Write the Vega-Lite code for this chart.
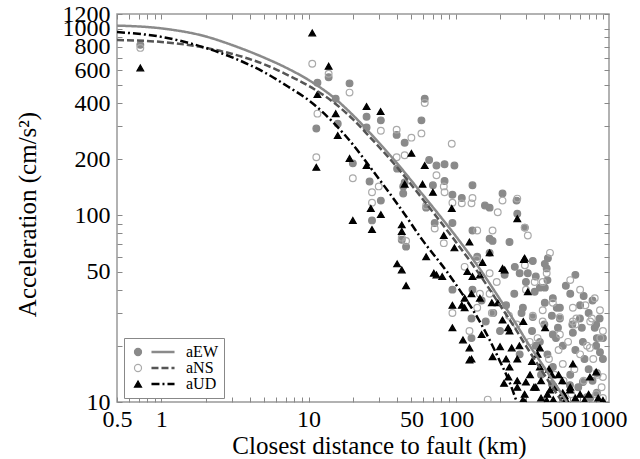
{
  "$schema": "https://vega.github.io/schema/vega-lite/v6.json",
  "autosize": {"type": "none"},
  "width": 492,
  "height": 388,
  "padding": {"left": 117, "top": 14, "right": 31, "bottom": 57},
  "background": "white",
  "config": {
    "view": {"stroke": "#999", "strokeWidth": 1.5},
    "font": "serif",
    "axis": {
      "domain": false, "grid": false, "tickSize": -5, "tickColor": "#888", "tickWidth": 1,
      "labelFont": "serif", "labelFontSize": 24, "labelColor": "#000",
      "labelOverlap": false, "labelFlush": false, "labelBound": false,
      "titleFont": "serif", "titleFontSize": 25, "titleFontWeight": "normal", "titleColor": "#000"
    },
    "legend": {"labelFont": "serif"}
  },
  "datasets": {
    "pts": [
      {"comp":"aEW","d":0.72,"a":820},{"comp":"aEW","d":11.5,"a":514},{"comp":"aEW","d":13.7,"a":550},{"comp":"aEW","d":19,"a":510},{"comp":"aEW","d":15.3,"a":422},{"comp":"aEW","d":15.8,"a":310},{"comp":"aEW","d":11.3,"a":292},{"comp":"aEW","d":24.8,"a":338},{"comp":"aEW","d":31,"a":323},{"comp":"aEW","d":24.8,"a":296},{"comp":"aEW","d":39.7,"a":270},{"comp":"aEW","d":61.6,"a":422},{"comp":"aEW","d":58.5,"a":323},{"comp":"aEW","d":45,"a":245},{"comp":"aEW","d":20,"a":190},{"comp":"aEW","d":66,"a":198},{"comp":"aEW","d":74,"a":185},{"comp":"aEW","d":84,"a":188},{"comp":"aEW","d":98,"a":185},{"comp":"aEW","d":40,"a":178},{"comp":"aEW","d":45,"a":150},{"comp":"aEW","d":70,"a":145},{"comp":"aEW","d":26,"a":152},{"comp":"aEW","d":44,"a":143},{"comp":"aEW","d":44,"a":131},{"comp":"aEW","d":31,"a":120},{"comp":"aEW","d":95,"a":129},{"comp":"aEW","d":63,"a":110},{"comp":"aEW","d":27,"a":94},{"comp":"aEW","d":46,"a":68},{"comp":"aEW","d":43,"a":74},{"comp":"aEW","d":72,"a":91},{"comp":"aEW","d":95,"a":91},{"comp":"aEW","d":95,"a":40},{"comp":"aEW","d":84,"a":153},{"comp":"aEW","d":110,"a":124},{"comp":"aEW","d":130,"a":145},{"comp":"aEW","d":158,"a":113},{"comp":"aEW","d":170,"a":110},{"comp":"aEW","d":208,"a":131},{"comp":"aEW","d":259,"a":120},{"comp":"aEW","d":262,"a":102},{"comp":"aEW","d":130,"a":83},{"comp":"aEW","d":170,"a":75},{"comp":"aEW","d":178,"a":73},{"comp":"aEW","d":232,"a":72},{"comp":"aEW","d":140,"a":60},{"comp":"aEW","d":252,"a":53},{"comp":"aEW","d":272,"a":49},{"comp":"aEW","d":128,"a":28},{"comp":"aEW","d":128,"a":22},{"comp":"aEW","d":272,"a":18},{"comp":"aEW","d":295,"a":86},{"comp":"aEW","d":334,"a":57},{"comp":"aEW","d":423,"a":59},{"comp":"aEW","d":403,"a":55},{"comp":"aEW","d":415,"a":52},{"comp":"aEW","d":309,"a":49},{"comp":"aEW","d":373,"a":41},{"comp":"aEW","d":403,"a":41},{"comp":"aEW","d":344,"a":39},{"comp":"aEW","d":457,"a":36},{"comp":"aEW","d":486,"a":32},{"comp":"aEW","d":510,"a":32},{"comp":"aEW","d":403,"a":34},{"comp":"aEW","d":286,"a":32},{"comp":"aEW","d":698,"a":28},{"comp":"aEW","d":450,"a":29},{"comp":"aEW","d":334,"a":28.5},{"comp":"aEW","d":510,"a":28},{"comp":"aEW","d":495,"a":25},{"comp":"aEW","d":719,"a":25},{"comp":"aEW","d":457,"a":23},{"comp":"aEW","d":625,"a":23.5},{"comp":"aEW","d":910,"a":22},{"comp":"aEW","d":373,"a":21},{"comp":"aEW","d":534,"a":20},{"comp":"aEW","d":731,"a":21},{"comp":"aEW","d":955,"a":18.5},{"comp":"aEW","d":1000,"a":17},{"comp":"aEW","d":457,"a":15.4},{"comp":"aEW","d":910,"a":14.3},{"comp":"aEW","d":731,"a":12.8},{"comp":"aEW","d":597,"a":12.3},{"comp":"aEW","d":910,"a":11.2},{"comp":"aEW","d":778,"a":10.6},{"comp":"aEW","d":170,"a":63},{"comp":"aEW","d":215,"a":48},{"comp":"aEW","d":350,"a":20},{"comp":"aEW","d":420,"a":18},{"comp":"aEW","d":480,"a":22},{"comp":"aEW","d":600,"a":14},{"comp":"aEW","d":650,"a":19},{"comp":"aEW","d":750,"a":17},{"comp":"aEW","d":800,"a":15},{"comp":"aEW","d":850,"a":13},{"comp":"aEW","d":900,"a":20},{"comp":"aEW","d":380,"a":14},{"comp":"aEW","d":450,"a":12.5},{"comp":"aEW","d":680,"a":12},{"comp":"aEW","d":820,"a":10.5},{"comp":"aEW","d":330,"a":24},{"comp":"aEW","d":400,"a":26},{"comp":"aEW","d":620,"a":26},{"comp":"aEW","d":880,"a":25},{"comp":"aEW","d":130,"a":40},{"comp":"aEW","d":150,"a":35},{"comp":"aEW","d":180,"a":30},{"comp":"aEW","d":220,"a":33},{"comp":"aEW","d":250,"a":38},{"comp":"aEW","d":280,"a":30},{"comp":"aEW","d":160,"a":27},{"comp":"aEW","d":200,"a":24},{"comp":"aEW","d":300,"a":44},{"comp":"aEW","d":350,"a":47},{"comp":"aEW","d":420,"a":45},{"comp":"aEW","d":600,"a":38},{"comp":"aEW","d":700,"a":33},{"comp":"aEW","d":800,"a":30},{"comp":"aEW","d":900,"a":26},{"comp":"aEW","d":560,"a":42},{"comp":"aEW","d":650,"a":48},{"comp":"aEW","d":740,"a":37},{"comp":"aEW","d":850,"a":35},{"comp":"aEW","d":950,"a":28},{"comp":"aEW","d":1000,"a":22},
      {"comp":"aNS","d":0.72,"a":790},{"comp":"aNS","d":10.6,"a":650},{"comp":"aNS","d":13.7,"a":574},{"comp":"aNS","d":19,"a":455},{"comp":"aNS","d":11.5,"a":351},{"comp":"aNS","d":31,"a":284},{"comp":"aNS","d":39.7,"a":288},{"comp":"aNS","d":50,"a":261},{"comp":"aNS","d":58.5,"a":275},{"comp":"aNS","d":61.6,"a":400},{"comp":"aNS","d":45,"a":210},{"comp":"aNS","d":39.7,"a":205},{"comp":"aNS","d":11.3,"a":205},{"comp":"aNS","d":74,"a":164},{"comp":"aNS","d":94,"a":242},{"comp":"aNS","d":83,"a":143},{"comp":"aNS","d":20,"a":158},{"comp":"aNS","d":30,"a":143},{"comp":"aNS","d":27,"a":133},{"comp":"aNS","d":27,"a":117},{"comp":"aNS","d":95,"a":117},{"comp":"aNS","d":63,"a":113},{"comp":"aNS","d":43,"a":76},{"comp":"aNS","d":46,"a":73},{"comp":"aNS","d":72,"a":85},{"comp":"aNS","d":83,"a":71},{"comp":"aNS","d":95,"a":30},{"comp":"aNS","d":84,"a":133},{"comp":"aNS","d":110,"a":116},{"comp":"aNS","d":130,"a":124},{"comp":"aNS","d":128,"a":116},{"comp":"aNS","d":193,"a":104},{"comp":"aNS","d":208,"a":120},{"comp":"aNS","d":294,"a":86},{"comp":"aNS","d":140,"a":83},{"comp":"aNS","d":178,"a":83},{"comp":"aNS","d":139,"a":58},{"comp":"aNS","d":115,"a":53},{"comp":"aNS","d":170,"a":49},{"comp":"aNS","d":146,"a":38},{"comp":"aNS","d":176,"a":30},{"comp":"aNS","d":124,"a":24},{"comp":"aNS","d":165,"a":10.3},{"comp":"aNS","d":309,"a":78},{"comp":"aNS","d":295,"a":54},{"comp":"aNS","d":437,"a":63},{"comp":"aNS","d":415,"a":49},{"comp":"aNS","d":344,"a":44},{"comp":"aNS","d":390,"a":44},{"comp":"aNS","d":457,"a":34},{"comp":"aNS","d":625,"a":32},{"comp":"aNS","d":390,"a":31},{"comp":"aNS","d":955,"a":31},{"comp":"aNS","d":842,"a":28},{"comp":"aNS","d":510,"a":28.5},{"comp":"aNS","d":334,"a":29},{"comp":"aNS","d":625,"a":27},{"comp":"aNS","d":510,"a":23},{"comp":"aNS","d":1000,"a":24},{"comp":"aNS","d":318,"a":21},{"comp":"aNS","d":816,"a":19.5},{"comp":"aNS","d":534,"a":16},{"comp":"aNS","d":1000,"a":13.6},{"comp":"aNS","d":1000,"a":10.5},{"comp":"aNS","d":262,"a":123},{"comp":"aNS","d":360,"a":22},{"comp":"aNS","d":430,"a":17},{"comp":"aNS","d":500,"a":19},{"comp":"aNS","d":580,"a":21},{"comp":"aNS","d":640,"a":15},{"comp":"aNS","d":700,"a":18},{"comp":"aNS","d":780,"a":20},{"comp":"aNS","d":860,"a":17},{"comp":"aNS","d":920,"a":14},{"comp":"aNS","d":980,"a":12},{"comp":"aNS","d":470,"a":14},{"comp":"aNS","d":540,"a":13},{"comp":"aNS","d":610,"a":11},{"comp":"aNS","d":740,"a":13},{"comp":"aNS","d":900,"a":11},{"comp":"aNS","d":390,"a":27},{"comp":"aNS","d":660,"a":28},{"comp":"aNS","d":820,"a":27},{"comp":"aNS","d":960,"a":22},{"comp":"aNS","d":140,"a":32},{"comp":"aNS","d":170,"a":38},{"comp":"aNS","d":230,"a":29},{"comp":"aNS","d":260,"a":26},{"comp":"aNS","d":190,"a":44},{"comp":"aNS","d":300,"a":40},{"comp":"aNS","d":700,"a":40},{"comp":"aNS","d":760,"a":33},{"comp":"aNS","d":880,"a":36},{"comp":"aNS","d":600,"a":45},{"comp":"aNS","d":650,"a":26},
      {"comp":"aUD","d":0.72,"a":617},{"comp":"aUD","d":10.6,"a":950},{"comp":"aUD","d":13.7,"a":630},{"comp":"aUD","d":11.5,"a":444},{"comp":"aUD","d":15.3,"a":351},{"comp":"aUD","d":15.8,"a":268},{"comp":"aUD","d":24.8,"a":383},{"comp":"aUD","d":30.9,"a":360},{"comp":"aUD","d":50,"a":215},{"comp":"aUD","d":19,"a":202},{"comp":"aUD","d":11.3,"a":181},{"comp":"aUD","d":24.8,"a":185},{"comp":"aUD","d":61.6,"a":185},{"comp":"aUD","d":45,"a":147},{"comp":"aUD","d":59.5,"a":147},{"comp":"aUD","d":70,"a":133},{"comp":"aUD","d":26.5,"a":109},{"comp":"aUD","d":31,"a":101},{"comp":"aUD","d":94,"a":109},{"comp":"aUD","d":20,"a":94},{"comp":"aUD","d":27,"a":84},{"comp":"aUD","d":43,"a":89},{"comp":"aUD","d":43,"a":82},{"comp":"aUD","d":63,"a":60},{"comp":"aUD","d":40,"a":55},{"comp":"aUD","d":43,"a":51},{"comp":"aUD","d":71,"a":49},{"comp":"aUD","d":74,"a":48},{"comp":"aUD","d":81,"a":47},{"comp":"aUD","d":46,"a":42},{"comp":"aUD","d":95,"a":33},{"comp":"aUD","d":95,"a":25},{"comp":"aUD","d":83,"a":78},{"comp":"aUD","d":98,"a":67},{"comp":"aUD","d":262,"a":96},{"comp":"aUD","d":124,"a":72},{"comp":"aUD","d":170,"a":63},{"comp":"aUD","d":208,"a":52},{"comp":"aUD","d":152,"a":56},{"comp":"aUD","d":294,"a":59},{"comp":"aUD","d":130,"a":47},{"comp":"aUD","d":146,"a":48},{"comp":"aUD","d":128,"a":38},{"comp":"aUD","d":115,"a":36},{"comp":"aUD","d":146,"a":36},{"comp":"aUD","d":176,"a":34},{"comp":"aUD","d":193,"a":34},{"comp":"aUD","d":115,"a":32},{"comp":"aUD","d":227,"a":25},{"comp":"aUD","d":150,"a":23},{"comp":"aUD","d":112,"a":21.5},{"comp":"aUD","d":124,"a":19.5},{"comp":"aUD","d":178,"a":17.5},{"comp":"aUD","d":128,"a":17},{"comp":"aUD","d":240,"a":19.5},{"comp":"aUD","d":262,"a":17},{"comp":"aUD","d":262,"a":13},{"comp":"aUD","d":294,"a":11},{"comp":"aUD","d":290,"a":58},{"comp":"aUD","d":309,"a":39},{"comp":"aUD","d":110,"a":33},{"comp":"aUD","d":120,"a":50},{"comp":"aUD","d":215,"a":51},{"comp":"aUD","d":208,"a":27.5},{"comp":"aUD","d":232,"a":24},{"comp":"aUD","d":200,"a":19.8},{"comp":"aUD","d":220,"a":17},{"comp":"aUD","d":232,"a":15.4},{"comp":"aUD","d":228,"a":13.6},{"comp":"aUD","d":262,"a":12},{"comp":"aUD","d":295,"a":10},{"comp":"aUD","d":213,"a":12.6},{"comp":"aUD","d":124,"a":16.8},{"comp":"aUD","d":288,"a":27},{"comp":"aUD","d":405,"a":25},{"comp":"aUD","d":271,"a":20},{"comp":"aUD","d":373,"a":19.5},{"comp":"aUD","d":625,"a":16},{"comp":"aUD","d":373,"a":15.4},{"comp":"aUD","d":816,"a":13.6},{"comp":"aUD","d":300,"a":12.8},{"comp":"aUD","d":340,"a":12},{"comp":"aUD","d":437,"a":11.6},{"comp":"aUD","d":534,"a":11.2},{"comp":"aUD","d":597,"a":11.6},{"comp":"aUD","d":930,"a":10.5},{"comp":"aUD","d":285,"a":10.2},{"comp":"aUD","d":415,"a":10.2},{"comp":"aUD","d":320,"a":14},{"comp":"aUD","d":350,"a":12},{"comp":"aUD","d":380,"a":13},{"comp":"aUD","d":420,"a":11},{"comp":"aUD","d":450,"a":14},{"comp":"aUD","d":480,"a":12},{"comp":"aUD","d":530,"a":13},{"comp":"aUD","d":600,"a":12},{"comp":"aUD","d":650,"a":10.5},{"comp":"aUD","d":700,"a":11},{"comp":"aUD","d":750,"a":10.2},{"comp":"aUD","d":800,"a":11},{"comp":"aUD","d":380,"a":10.5},{"comp":"aUD","d":460,"a":10.3},{"comp":"aUD","d":550,"a":10.8},{"comp":"aUD","d":900,"a":14.5},{"comp":"aUD","d":1000,"a":10.2},{"comp":"aUD","d":330,"a":16.5},{"comp":"aUD","d":360,"a":18},{"comp":"aUD","d":430,"a":15},{"comp":"aUD","d":500,"a":14},{"comp":"aUD","d":560,"a":10.3}
    ],
    "crv": [
      {"model":"EW","d":0.5,"a":1040},{"model":"EW","d":1,"a":1005},{"model":"EW","d":2,"a":910},{"model":"EW","d":3,"a":820},{"model":"EW","d":5,"a":700},{"model":"EW","d":7,"a":620},{"model":"EW","d":10,"a":532},{"model":"EW","d":15,"a":425},{"model":"EW","d":20,"a":345},{"model":"EW","d":26,"a":278},{"model":"EW","d":40,"a":190},{"model":"EW","d":57,"a":135},{"model":"EW","d":80,"a":97},{"model":"EW","d":106,"a":73},{"model":"EW","d":150,"a":50},{"model":"EW","d":200,"a":35.5},{"model":"EW","d":244,"a":28},{"model":"EW","d":300,"a":21.5},{"model":"EW","d":400,"a":15.3},{"model":"EW","d":500,"a":11.7},{"model":"EW","d":570,"a":10},
      {"model":"NS","d":0.5,"a":870},{"model":"NS","d":1,"a":850},{"model":"NS","d":2,"a":790},{"model":"NS","d":3,"a":735},{"model":"NS","d":5,"a":645},{"model":"NS","d":7,"a":572},{"model":"NS","d":10,"a":495},{"model":"NS","d":15,"a":400},{"model":"NS","d":20,"a":328},{"model":"NS","d":26,"a":264},{"model":"NS","d":40,"a":181},{"model":"NS","d":57,"a":128},{"model":"NS","d":80,"a":91},{"model":"NS","d":106,"a":68},{"model":"NS","d":150,"a":46.5},{"model":"NS","d":200,"a":33},{"model":"NS","d":244,"a":26},{"model":"NS","d":300,"a":20},{"model":"NS","d":400,"a":14},{"model":"NS","d":500,"a":10.7},{"model":"NS","d":530,"a":10},
      {"model":"UD","d":0.5,"a":960},{"model":"UD","d":1,"a":905},{"model":"UD","d":2,"a":790},{"model":"UD","d":3,"a":705},{"model":"UD","d":5,"a":585},{"model":"UD","d":7.4,"a":485},{"model":"UD","d":10,"a":415},{"model":"UD","d":15,"a":310},{"model":"UD","d":20,"a":240},{"model":"UD","d":26,"a":183},{"model":"UD","d":44,"a":104},{"model":"UD","d":60,"a":73},{"model":"UD","d":87,"a":50},{"model":"UD","d":106,"a":40},{"model":"UD","d":140,"a":28.5},{"model":"UD","d":170,"a":21.5},{"model":"UD","d":200,"a":16.5},{"model":"UD","d":230,"a":13},{"model":"UD","d":260,"a":10}
    ]
  },
  "layer": [
    {
      "data": {"name": "pts"},
      "mark": {"type": "point", "filled": true, "size": 45, "strokeWidth": 1.2, "opacity": 1, "clip": true},
      "encoding": {
        "x": {"field": "d", "type": "quantitative", "scale": {"type": "log", "domain": [0.5, 1100]},
          "axis": {"orient": "bottom", "title": "Closest distance to fault (km)", "titleX": 262, "titlePadding": 2, "labelPadding": 10, "format": "~g",
            "values": [0.5,0.6,0.7,0.8,0.9,1,2,3,4,5,6,7,8,9,10,20,30,40,50,60,70,80,90,100,200,300,400,500,600,700,800,900,1000],
            "labelExpr": "indexof([0.5,1,10,50,100,500,1000], datum.value) >= 0 ? datum.label : ''"}},
        "y": {"field": "a", "type": "quantitative", "scale": {"type": "log", "domain": [10, 1200]},
          "axis": {"orient": "left", "title": "Acceleration (cm/s²)", "titlePadding": 22, "titleY": 200, "labelPadding": 12, "format": "~g",
            "values": [10,20,30,40,50,60,70,80,90,100,200,300,400,500,600,700,800,900,1000,1200],
            "labelExpr": "indexof([10,50,100,200,400,600,800,1000,1200], datum.value) >= 0 ? datum.label : ''"}},
        "shape": {"field": "comp", "type": "nominal", "scale": {"domain": ["aEW","aNS","aUD"], "range": ["circle","circle","triangle-up"]},
          "legend": {"orient": "none", "legendX": 7, "legendY": 324, "title": null, "strokeColor": "#888", "fillColor": "white", "padding": 6, "symbolSize": 50, "symbolStrokeWidth": 1.2, "labelFont": "serif", "labelFontSize": 16, "labelOffset": 40, "rowPadding": 0, "labelColor": "#000"}},
        "fill": {"field": "comp", "type": "nominal", "scale": {"domain": ["aEW","aNS","aUD"], "range": ["#8a8a8a","transparent","#000"]},
          "legend": {"orient": "none", "legendX": 7, "legendY": 324, "title": null, "strokeColor": "#888", "fillColor": "white", "padding": 6, "symbolSize": 50, "symbolStrokeWidth": 1.2, "labelFont": "serif", "labelFontSize": 16, "labelOffset": 40, "rowPadding": 0, "labelColor": "#000"}},
        "stroke": {"field": "comp", "type": "nominal", "scale": {"domain": ["aEW","aNS","aUD"], "range": ["#8a8a8a","#aaa","#000"]},
          "legend": {"orient": "none", "legendX": 7, "legendY": 324, "title": null, "strokeColor": "#888", "fillColor": "white", "padding": 6, "symbolSize": 50, "symbolStrokeWidth": 1.2, "labelFont": "serif", "labelFontSize": 16, "labelOffset": 40, "rowPadding": 0, "labelColor": "#000"}}
      }
    },
    {
      "data": {"name": "crv"},
      "mark": {"type": "line", "strokeWidth": 2.5, "clip": true, "interpolate": "monotone"},
      "encoding": {
        "x": {"field": "d", "type": "quantitative", "scale": {"type": "log", "domain": [0.5, 1100]},
          "axis": {"orient": "top", "title": null, "labels": false,
            "values": [0.5,0.6,0.7,0.8,0.9,1,2,3,4,5,6,7,8,9,10,20,30,40,50,60,70,80,90,100,200,300,400,500,600,700,800,900,1000]}},
        "y": {"field": "a", "type": "quantitative", "scale": {"type": "log", "domain": [10, 1200]},
          "axis": {"orient": "right", "title": null, "labels": false,
            "values": [10,20,30,40,50,60,70,80,90,100,200,300,400,500,600,700,800,900,1000,1200]}},
        "color": {"field": "model", "type": "nominal", "scale": {"domain": ["EW","NS","UD"], "range": ["#8a8a8a","#555","#000"]},
          "legend": {"orient": "none", "legendX": 38, "legendY": 330, "title": null, "padding": 0, "symbolType": "M-3,0L3,0", "symbolSize": 59, "symbolStrokeWidth": 2.5, "labelFont": "serif", "labelFontSize": 16, "labelColor": "transparent", "labelExpr": "'.'", "rowPadding": 0}},
        "strokeDash": {"field": "model", "type": "nominal", "scale": {"domain": ["EW","NS","UD"], "range": [[1,0],[7,3],[8,3,2,3]]},
          "legend": {"orient": "none", "legendX": 38, "legendY": 330, "title": null, "padding": 0, "symbolType": "M-3,0L3,0", "symbolSize": 59, "symbolStrokeWidth": 2.5, "labelFont": "serif", "labelFontSize": 16, "labelColor": "transparent", "labelExpr": "'.'", "rowPadding": 0}}
      }
    }
  ],
  "resolve": {"axis": {"x": "independent", "y": "independent"}}
}
